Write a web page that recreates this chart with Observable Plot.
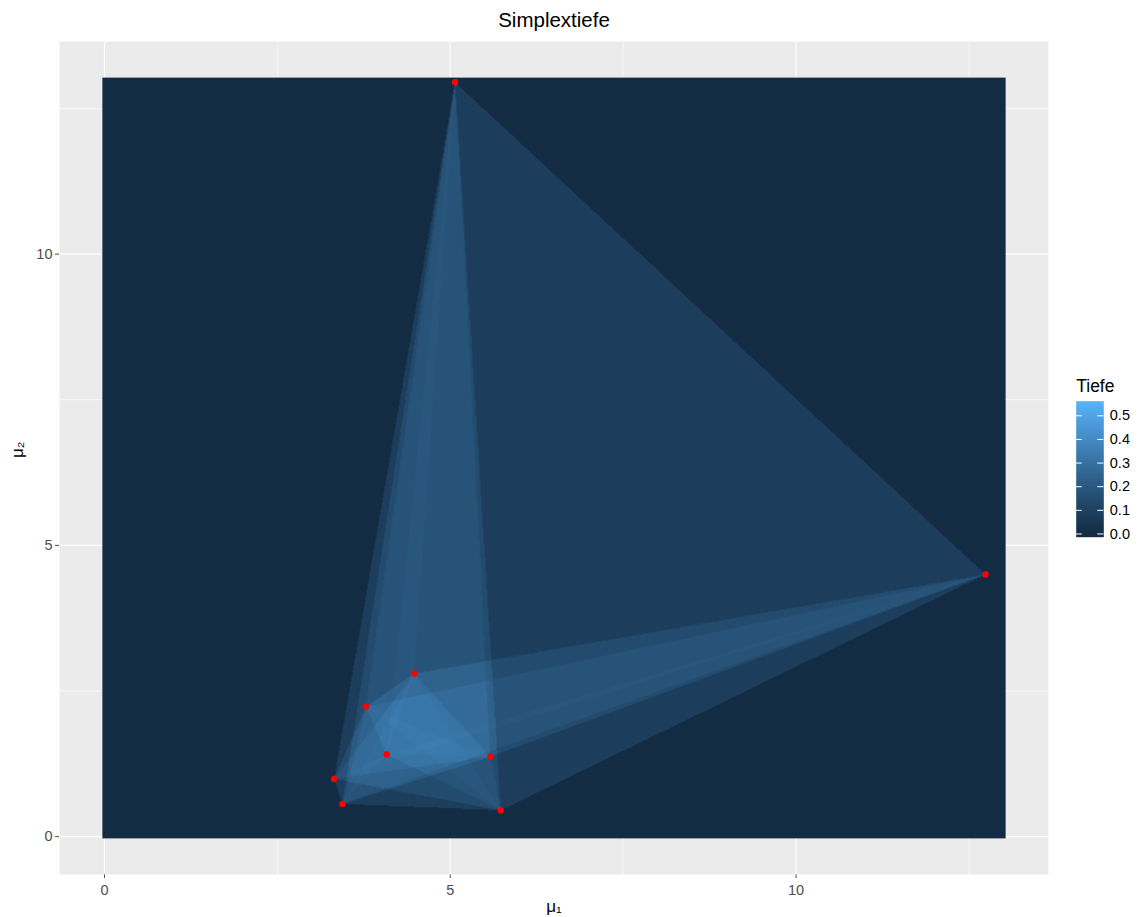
<!DOCTYPE html>
<html><head><meta charset="utf-8">
<script src="https://cdn.jsdelivr.net/npm/d3@7"></script>
<script src="https://cdn.jsdelivr.net/npm/@observablehq/plot@0.6"></script>
<style>
body{margin:0;background:#fff;font-family:"Liberation Sans",Arial,sans-serif;}
#wrap{position:relative;width:1138px;height:917px;}
#legend{position:absolute;left:1070px;top:370px;}
</style></head><body><div id="wrap"><div id="main"></div><div id="legend"></div></div>
<script>
// Sample points (red dots)
const pointX = [5.07, 12.74, 4.48, 3.78, 4.08, 5.58, 3.32, 3.44, 5.73];
const pointY = [12.95, 4.50, 2.80, 2.23, 1.41, 1.37, 0.99, 0.56, 0.45];
// Axis ticks
const xTicks = [0, 5, 10];
const yTicks = [0, 5, 10];
const minorTicks = [2.5, 7.5, 12.5];
const legendTicks = [0, 0.1, 0.2, 0.3, 0.4, 0.5];
// Colour-bar limits
const depthLimits = [0, 0.548];
// Grid extent over which depth is evaluated
const gridLo = [-0.03];
const gridHi = [13.03];
// Texts
const titleText = "Simplextiefe";
const xLabel = "μ₁";
const yLabel = "μ₂";
const legendTitle = "Tiefe";

const points = pointX.map((x, i) => ({x, y: pointY[i]}));

// all triangles (simplices) from the sample
const tris = [];
for (let i = 0; i < points.length; i++)
  for (let j = i + 1; j < points.length; j++)
    for (let k = j + 1; k < points.length; k++)
      tris.push([points[i], points[j], points[k]]);

function side(px, py, a, b) {
  return (px - b.x) * (a.y - b.y) - (a.x - b.x) * (py - b.y);
}
function depth(x, y) {
  let c = 0;
  for (const [a, b, d] of tris) {
    const s1 = side(x, y, a, b), s2 = side(x, y, b, d), s3 = side(x, y, d, a);
    const neg = s1 < 0 || s2 < 0 || s3 < 0;
    const pos = s1 > 0 || s2 > 0 || s3 > 0;
    if (!(neg && pos)) c++;
  }
  return c / tris.length;
}
const maxDepth = depthLimits[1];

const colorScale = {type: "linear", domain: depthLimits, range: ["#132B43", "#56B1F7"], interpolate: "lab", clamp: true};
const font = "Liberation Sans, Arial, sans-serif";

const main = Plot.plot({
  width: 1138, height: 917,
  marginLeft: 59, marginRight: 90, marginTop: 41, marginBottom: 43,
  style: {fontFamily: font, fontSize: "14.5px", color: "#4D4D4D", background: "white"},
  x: {domain: [-0.65, 13.65], ticks: xTicks, tickSize: 4, tickPadding: 6, label: null},
  y: {domain: [-0.65, 13.65], ticks: yTicks, tickSize: 4, tickPadding: 3, label: null},
  color: colorScale,
  marks: [
    Plot.frame({fill: "#EBEBEB", stroke: null}),
    Plot.ruleX(minorTicks, {stroke: "white", strokeWidth: 0.6, strokeOpacity: 1}),
    Plot.ruleY(minorTicks, {stroke: "white", strokeWidth: 0.6, strokeOpacity: 1}),
    Plot.ruleX(xTicks, {stroke: "white", strokeWidth: 1.1, strokeOpacity: 1}),
    Plot.ruleY(yTicks, {stroke: "white", strokeWidth: 1.1, strokeOpacity: 1}),
    Plot.raster({x1: gridLo[0], x2: gridHi[0], y1: gridLo[0], y2: gridHi[0], fill: depth, pixelSize: 1}),
    Plot.dot(points, {x: "x", y: "y", r: 3.2, fill: "#FF0000", stroke: null}),
    Plot.text([titleText], {frameAnchor: "top", dy: -21, fontSize: 20.5, fill: "black", lineAnchor: "middle"}),
    Plot.text([xLabel], {frameAnchor: "bottom", dy: 32, fontSize: 17, fill: "black", lineAnchor: "middle"}),
    Plot.text([yLabel], {frameAnchor: "left", dx: -42, rotate: -90, fontSize: 17, fill: "black", lineAnchor: "middle"})
  ]
});
document.getElementById("main").appendChild(main);

const lo = -maxDepth / 40, hi = maxDepth * 41 / 40;
const legend = Plot.plot({
  width: 68, height: 180,
  marginLeft: 5.7, marginRight: 34.7, marginTop: 30.7, marginBottom: 13.3,
  style: {fontFamily: font, fontSize: "14.5px", color: "black", background: "transparent", overflow: "visible"},
  x: {domain: [0, 1], axis: null},
  y: {domain: [lo, hi], axis: "right", ticks: legendTicks, tickFormat: ".1f", tickSize: 0, tickPadding: 6, label: null},
  color: colorScale,
  marks: [
    Plot.raster({x1: 0, x2: 1, y1: lo, y2: hi, fill: (x, y) => y, pixelSize: 1}),
    Plot.ruleY(legendTicks, {x1: 0, x2: 0.22, stroke: "white", strokeWidth: 1}),
    Plot.ruleY(legendTicks, {x1: 0.78, x2: 1, stroke: "white", strokeWidth: 1}),
    Plot.text([legendTitle], {frameAnchor: "top-left", dy: -15, textAnchor: "start", fontSize: 17.5, fill: "black", lineAnchor: "middle"})
  ]
});
document.getElementById("legend").appendChild(legend);
</script>
</body></html>
